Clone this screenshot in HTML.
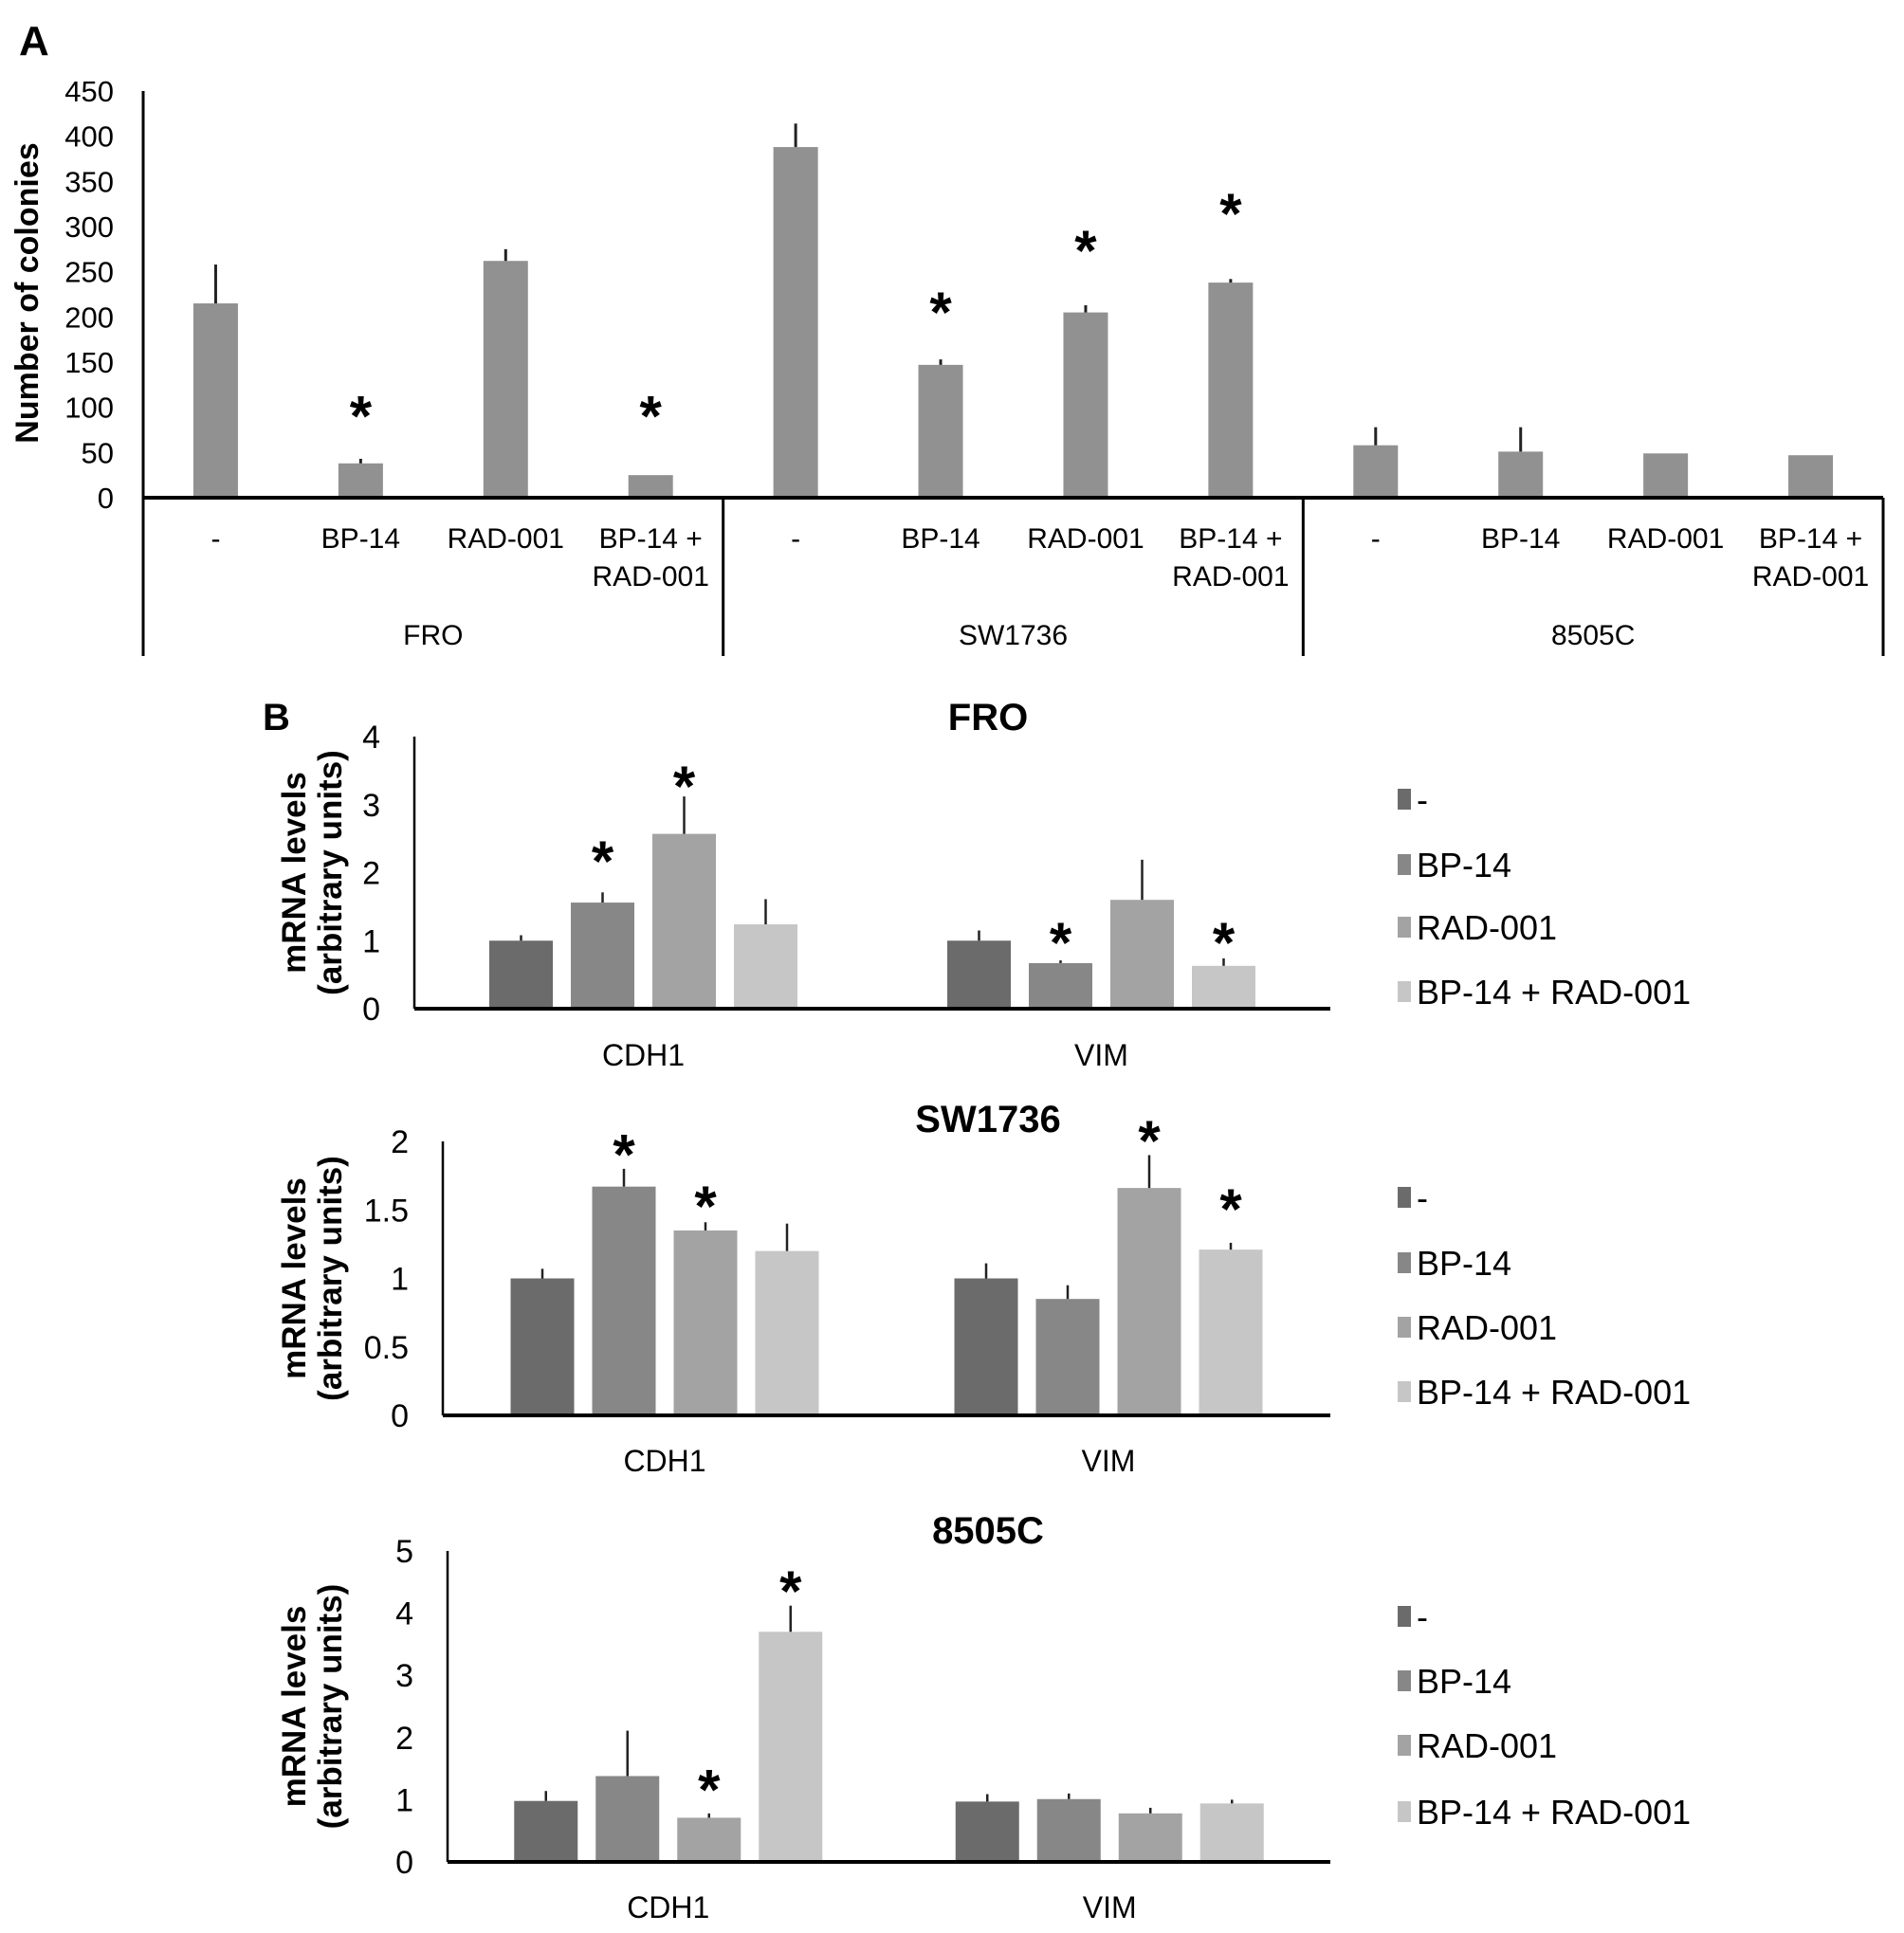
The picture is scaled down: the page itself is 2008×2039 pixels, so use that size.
<!DOCTYPE html>
<html><head><meta charset="utf-8"><style>
html,body{margin:0;padding:0;background:#fff}
svg{display:block;font-family:"Liberation Sans",Arial,sans-serif}
</style></head><body>
<svg id="fig" width="2008" height="2039" viewBox="0 0 2008 2039" xmlns="http://www.w3.org/2000/svg">
<rect width="2008" height="2039" fill="#fff"/>
<text x="20" y="58" font-size="44" font-weight="bold">A</text>
<text x="277" y="770" font-size="40" font-weight="bold">B</text>
<g id="gA"></g>
<g id="gB1"></g>
<g id="gB2"></g>
<g id="gB3"></g>
</svg>
<script>
// ---- Panel A data ----
const aGroups = ["FRO", "SW1736", "8505C"];
const aTreatments = ["-", "BP-14", "RAD-001", "BP-14 +|RAD-001"];
const aValues = [215, 38, 262, 25, 388, 147, 205, 238, 58, 51, 49, 47];
const aErrTops = [258, 43, 275, 25, 414, 153, 213, 242, 78, 78, 49, 47];
const aStarY = [null, 100, null, 100, null, 215, 283, 324, null, null, null, null];
const aTicks = [0, 50, 100, 150, 200, 250, 300, 350, 400, 450];

// ---- Panel B data ----
const bGenes = ["CDH1", "VIM"];
const bSeries = ["-", "BP-14", "RAD-001", "BP-14 + RAD-001"];
const froValues = [[1.0, 1.56, 2.57, 1.24], [1.0, 0.67, 1.6, 0.63]];
const froErr = [[1.08, 1.71, 3.12, 1.61], [1.15, 0.71, 2.19, 0.74]];
const froStars = [[null, 2.3, 3.4, null], [null, 1.1, null, 1.1]];
const froTicks = [0, 1, 2, 3, 4];
const swValues = [[1.0, 1.67, 1.35, 1.2], [1.0, 0.85, 1.66, 1.21]];
const swErr = [[1.07, 1.8, 1.41, 1.4], [1.11, 0.95, 1.9, 1.26]];
const swStars = [[null, 1.97, 1.59, null], [null, null, 2.07, 1.57]];
const swTicks = [0, 0.5, 1, 1.5, 2];
const c8Values = [[0.98, 1.38, 0.71, 3.7], [0.97, 1.01, 0.78, 0.94]];
const c8Err = [[1.14, 2.11, 0.78, 4.12], [1.09, 1.1, 0.87, 1.0]];
const c8Stars = [[null, null, 1.3, 4.5], [null, null, null, null]];
const c8Ticks = [0, 1, 2, 3, 4, 5];
const seriesColors = ["#6b6b6b", "#878787", "#a3a3a3", "#c6c6c6"];

const NS = "http://www.w3.org/2000/svg";
function mk(parent, tag, attrs, text) {
  const e = document.createElementNS(NS, tag);
  for (const k in attrs) e.setAttribute(k, attrs[k]);
  if (text !== undefined) e.textContent = text;
  parent.appendChild(e);
  return e;
}
function star(g, x, y) {
  const s = mk(g, "text", {x: x, y: y + 0.5 * 60, "font-size": 60, "font-weight": "bold", "text-anchor": "middle"}, "*");
  
  
}

// ---- Panel A ----
(function () {
  const g = document.getElementById("gA");
  const x0 = 151, x1 = 1986, yZero = 525, yTop = 96, vMax = 450;
  const ys = v => yZero - (v / vMax) * (yZero - yTop);
  const n = aValues.length, step = (x1 - x0) / n, bw = 47;
  aTicks.forEach(t => {
    const l = mk(g, "text", {x: 120, y: ys(t) + 11, "font-size": 31, "text-anchor": "end"}, String(t));
    
    
  });
  const yt = mk(g, "text", {x: 0, y: 0, "font-size": 34, "font-weight": "bold", "text-anchor": "middle", transform: "translate(40,309) rotate(-90)"}, "Number of colonies");
  
  
  aValues.forEach((v, i) => {
    const cx = x0 + step * (i + 0.5);
    const b = mk(g, "rect", {x: cx - bw / 2, y: ys(v), width: bw, height: yZero - ys(v), fill: "#919191"});
    
    
    if (aErrTops[i] > v) {
      const e = mk(g, "line", {x1: cx, x2: cx, y1: ys(v), y2: ys(aErrTops[i]), stroke: "#222", "stroke-width": 3});
      
      
    }
    if (aStarY[i] !== null) star(g, cx, ys(aStarY[i]));
    const lines = aTreatments[i % 4].split("|");
    lines.forEach((t, k) => {
      const tl = mk(g, "text", {x: cx, y: 578 + k * 40, "font-size": 30, "text-anchor": "middle"}, t);
      
      
    });
  });
  const ax = mk(g, "line", {x1: x0, x2: x1, y1: yZero, y2: yZero, stroke: "#000", "stroke-width": 4});
  
  
  const ay = mk(g, "line", {x1: x0, x2: x0, y1: yTop, y2: 692, stroke: "#000", "stroke-width": 3});
  
  
  aGroups.forEach((name, gi) => {
    const gx = x0 + step * 4 * (gi + 1);
    const d = mk(g, "line", {x1: gx, x2: gx, y1: yZero, y2: 692, stroke: "#000", "stroke-width": 3});
    
    
    const gl = mk(g, "text", {x: x0 + step * 4 * (gi + 0.5), y: 680, "font-size": 30, "text-anchor": "middle"}, name);
    
    
  });
})();

// ---- Panel B ----
function drawB(gid, title, vals, errs, stars, ticks, ax0, yTop, yZero, titleY, legY, catY) {
  const g = document.getElementById(gid);
  const x1 = 1403, vMax = ticks[ticks.length - 1];
  const ys = v => yZero - (v / vMax) * (yZero - yTop);
  const gw = (x1 - ax0) / 2, pitch = 86, bw = 67;
  const tt = mk(g, "text", {x: 1042, y: titleY + 14, "font-size": 40, "font-weight": "bold", "text-anchor": "middle"}, title);
  
  
  ticks.forEach(t => {
    const l = mk(g, "text", {x: ax0 - 36, y: ys(t) + 12, "font-size": 34, "text-anchor": "end"}, String(t));
    
    
  });
  const cy = (yTop + yZero) / 2;
  const t1 = mk(g, "text", {x: 0, y: 0, "font-size": 35, "font-weight": "bold", "text-anchor": "middle", transform: `translate(322,${cy}) rotate(-90)`}, "mRNA levels");
  
  
  const t2 = mk(g, "text", {x: 0, y: 0, "font-size": 35, "font-weight": "bold", "text-anchor": "middle", transform: `translate(360,${cy}) rotate(-90)`}, "(arbitrary units)");
  
  
  bGenes.forEach((gene, gi) => {
    const gc = ax0 + gw * (gi + 0.5);
    vals[gi].forEach((v, si) => {
      const cx = gc + (si - 1.5) * pitch;
      const b = mk(g, "rect", {x: cx - bw / 2, y: ys(v), width: bw, height: yZero - ys(v), fill: seriesColors[si]});
      
      
      const e = mk(g, "line", {x1: cx, x2: cx, y1: ys(v), y2: ys(errs[gi][si]), stroke: "#222", "stroke-width": 2.5});
      
      
      if (stars[gi][si] !== null) star(g, cx, ys(stars[gi][si]));
    });
    const cl = mk(g, "text", {x: gc, y: catY + 12, "font-size": 32, "text-anchor": "middle"}, gene);
    
    
  });
  const ax = mk(g, "line", {x1: ax0, x2: x1, y1: yZero, y2: yZero, stroke: "#000", "stroke-width": 4});
  
  
  const ay = mk(g, "line", {x1: ax0, x2: ax0, y1: yTop, y2: yZero, stroke: "#000", "stroke-width": 2.5});
  
  
  bSeries.forEach((s, si) => {
    const y = legY[si];
    const sw = mk(g, "rect", {x: 1474, y: y - 11, width: 14, height: 22, fill: seriesColors[si]});
    
    
    const lt = mk(g, "text", {x: 1494, y: y + 13, "font-size": 36}, s);
    
    
  });
}
drawB("gB1", "FRO", froValues, froErr, froStars, froTicks, 437, 777, 1064, 756, [843, 912, 978, 1046], 1112);
drawB("gB2", "SW1736", swValues, swErr, swStars, swTicks, 467, 1204, 1493, 1180, [1263, 1332, 1400, 1468], 1540);
drawB("gB3", "8505C", c8Values, c8Err, c8Stars, c8Ticks, 472, 1636, 1964, 1614, [1705, 1773, 1841, 1911], 2011);
</script>
</body></html>
